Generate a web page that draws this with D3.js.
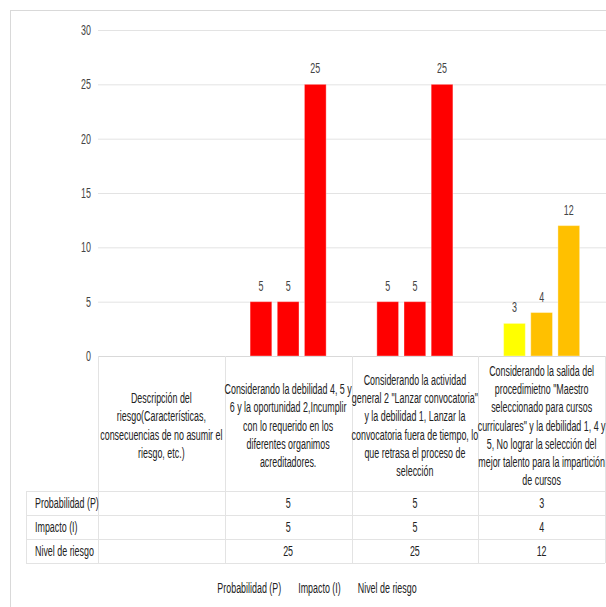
<!DOCTYPE html>
<html>
<head>
<meta charset="utf-8">
<script src="https://cdn.jsdelivr.net/npm/d3@7"></script>
<style>
  body { margin: 0; background: #fff; }
  svg text { font-family: "Liberation Sans", Arial, sans-serif; }
</style>
</head>
<body>
<svg id="chart" width="606" height="607"></svg>
<script>
// categories, each given as the lines it is wrapped into
var categories = [
  ["Descripción del", "riesgo(Características,", "consecuencias de no asumir el", "riesgo, etc.)"],
  ["Considerando la debilidad 4, 5 y", "6 y la oportunidad 2,Incumplir", "con lo requerido en los", "diferentes organimos", "acreditadores."],
  ["Considerando la actividad", "general 2 \"Lanzar convocatoria\"", "y la debilidad 1, Lanzar la", "convocatoria fuera de tiempo, lo", "que retrasa el proceso de", "selección"],
  ["Considerando la salida del", "procedimietno \"Maestro", "seleccionado para cursos", "curriculares\" y la debilidad 1, 4 y", "5, No lograr la selección del", "mejor talento para la impartición", "de cursos"]
];
var seriesNames = ["Probabilidad (P)", "Impacto (I)", "Nivel de riesgo"];
var probabilidad = [null, 5, 5, 3];
var impacto = [null, 5, 5, 4];
var nivel = [null, 25, 25, 12];
var yTicks = [0, 5, 10, 15, 20, 25, 30];

// bar fill per category / series (conditional colours of the original)
var barColors = [
  [null, null, null],
  ["#FF0000", "#FF0000", "#FF0000"],
  ["#FF0000", "#FF0000", "#FF0000"],
  ["#FFFF00", "#FFC000", "#FFC000"]
];

var series = [probabilidad, impacto, nivel];
var svg = d3.select("svg#chart");

var plotLeft = 98, plotRight = 605, plotTop = 30, plotBottom = 356;
var rowLabelX = 26, headerBottom = 491, rowH = 24;
var fontSize = 14.5, narrow = 0.615;

// narrow text: Liberation Sans squeezed horizontally, like the original's condensed face
function addText(parent, x, y, str, anchor, fill) {
  var g = parent.append("g")
    .attr("transform", "translate(" + x + "," + y + ") scale(" + narrow + ",1)");
  return g.append("text")
    .attr("dy", "0.35em")
    .attr("text-anchor", anchor || "start")
    .attr("font-size", fontSize)
    .style("fill", fill || "#222")
    .text(str);
}

// frame
svg.append("line").attr("x1", 10).attr("x2", 606).attr("y1", 10.5).attr("y2", 10.5)
  .attr("stroke", "#d9d9d9");
svg.append("line").attr("x1", 10.5).attr("x2", 10.5).attr("y1", 10).attr("y2", 607)
  .attr("stroke", "#d9d9d9");

var x = d3.scaleBand()
  .domain(d3.range(categories.length))
  .range([plotLeft, plotRight]);
var bw = x.bandwidth();
var xInner = d3.scaleBand()
  .domain(d3.range(series.length))
  .range([bw * 0.2, bw * 0.8])
  .paddingInner(0.2);
var y = d3.scaleLinear()
  .domain([0, 30])
  .range([plotBottom, plotTop]);

// gridlines + y axis
var yAxis = svg.append("g")
  .attr("transform", "translate(" + plotLeft + ",0)")
  .call(d3.axisLeft(y).tickValues(yTicks).tickSize(-(606 - plotLeft)).tickFormat(""));
yAxis.select(".domain").remove();
yAxis.selectAll(".tick line").attr("stroke", "#e3e3e3");

yTicks.forEach(function (t) {
  addText(svg, plotLeft - 7, y(t), t, "end", "#444");
});

// bars
var barData = [];
series.forEach(function (s, si) {
  s.forEach(function (v, ci) {
    if (v != null) barData.push({ c: ci, s: si, v: v });
  });
});

svg.selectAll(".bar")
  .data(barData)
  .enter().append("rect")
  .attr("class", "bar")
  .attr("x", function (d) { return x(d.c) + xInner(d.s); })
  .attr("width", xInner.bandwidth())
  .attr("y", function (d) { return y(d.v); })
  .attr("height", function (d) { return plotBottom - y(d.v); })
  .attr("fill", function (d) { return barColors[d.c][d.s]; })
  .attr("stroke", "rgba(255,255,255,0.35)")
  .attr("stroke-width", 1);

barData.forEach(function (d) {
  addText(svg, x(d.c) + xInner(d.s) + xInner.bandwidth() / 2, y(d.v) - 16, d.v, "middle", "#444");
});

// data table
var tableLine = "#e3e3e3";
var tableBottom = headerBottom + rowH * series.length;

// axis line along the top of the header cells
svg.append("line").attr("x1", plotLeft).attr("x2", plotRight).attr("y1", plotBottom + 0.5).attr("y2", plotBottom + 0.5)
  .attr("stroke", "#d9d9d9");

// vertical cell borders
d3.range(categories.length + 1).forEach(function (i) {
  var xx = i < categories.length ? x(i) : plotRight;
  svg.append("line")
    .attr("x1", Math.round(xx) + 0.5).attr("x2", Math.round(xx) + 0.5)
    .attr("y1", plotBottom).attr("y2", tableBottom)
    .attr("stroke", tableLine);
});
svg.append("line").attr("x1", rowLabelX + 0.5).attr("x2", rowLabelX + 0.5)
  .attr("y1", headerBottom).attr("y2", tableBottom).attr("stroke", tableLine);

// horizontal row borders
d3.range(series.length + 1).forEach(function (r) {
  var yy = headerBottom + r * rowH;
  svg.append("line")
    .attr("x1", rowLabelX).attr("x2", plotRight)
    .attr("y1", yy + 0.5).attr("y2", yy + 0.5)
    .attr("stroke", tableLine);
});

// category headers
var lineH = 18.3;
categories.forEach(function (lines, ci) {
  var cy = (plotBottom + headerBottom) / 2 + 2;
  var startY = cy - (lines.length - 1) * lineH / 2;
  lines.forEach(function (ln, li) {
    addText(svg, x(ci) + bw / 2, startY + li * lineH, ln, "middle");
  });
});

// row labels and values
seriesNames.forEach(function (name, si) {
  var cy = headerBottom + si * rowH + rowH / 2;
  addText(svg, rowLabelX + 9, cy, name, "start");
  series[si].forEach(function (v, ci) {
    if (v == null) return;
    addText(svg, x(ci) + bw / 2, cy, v, "middle");
  });
});

// legend (text only, centred)
var legend = svg.append("g");
var lx = 0;
seriesNames.forEach(function (name) {
  var t = addText(legend, lx, 588, name, "start");
  lx += t.node().getComputedTextLength() * narrow + 17;
});
var lw = lx - 17;
legend.attr("transform", "translate(" + (317 - lw / 2) + ",0)");
</script>
</body>
</html>
